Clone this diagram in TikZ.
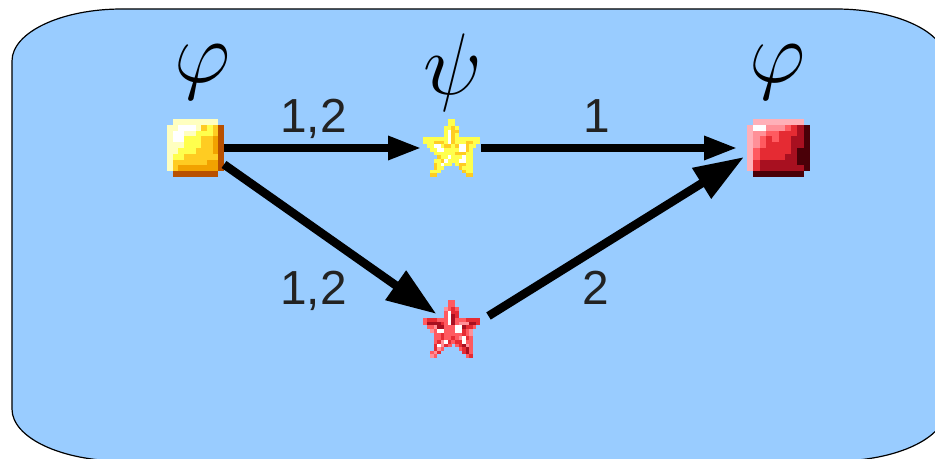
\documentclass[tikz,border=0pt]{standalone}
\usepackage{fontspec}
\setmainfont{Liberation Sans}
\usepackage{xcolor}
\usetikzlibrary{arrows.meta}
\definecolor{panelblue}{HTML}{99CCFF}
\definecolor{labelgray}{HTML}{222222}
\definecolor{pixc}{HTML}{FFFFC0}
\definecolor{pixw}{HTML}{FFFFFF}
\definecolor{pixy}{HTML}{FFFF4D}
\definecolor{pixg}{HTML}{FFCC22}
\definecolor{pixa}{HTML}{F2A200}
\definecolor{pixb}{HTML}{B85000}
\definecolor{pixp}{HTML}{FFB0B8}
\definecolor{pixl}{HTML}{FF9098}
\definecolor{pixm}{HTML}{FF5A60}
\definecolor{pixr}{HTML}{E52B33}
\definecolor{pixd}{HTML}{A81020}
\definecolor{pixk}{HTML}{4A0008}
\newcount\pixi
\def\pixloop#1{\ifx#1\relax\else\ifx#1-\else\fill[pix#1] (\the\pixi,\pixj) rectangle +(1.02,1.02);\fi\advance\pixi by 1 \expandafter\pixloop\fi}
\newcommand{\pixmap}[4]{\begin{scope}[shift={(#1.north west)},x=#2,y=-#3]
\foreach \pixrow [count=\pixj from 0] in {#4} {\pixi=0 \expandafter\pixloop\pixrow\relax}
\end{scope}}
\tikzset{
  sprite/.style={inner sep=0,outer sep=0,minimum height=0.58cm,minimum width=#1},
  lbl/.style={anchor=base,text=labelgray,font=\fontsize{13.6}{14}\selectfont,inner sep=0},
  sym/.style={font=\Huge,inner sep=0},
  thin arrow/.style={-{Triangle[length=0.34cm,width=0.22cm]},line width=0.085cm},
  big arrow/.style={-{Triangle[length=0.5cm,width=0.34cm]},line width=0.085cm}
}
\begin{document}
\begin{tikzpicture}
\useasboundingbox (0,0) rectangle (9.35,4.59);
\clip (0,0) rectangle (9.35,4.59);
\draw[fill=panelblue,line width=0.012cm] (0.12,3.98) arc[start angle=180,end angle=90,x radius=1.1,y radius=0.52] -- (8.36,4.50) arc[start angle=90,end angle=0,x radius=1.1,y radius=0.52] -- (9.46,0.50) arc[start angle=0,end angle=-90,x radius=1.1,y radius=0.52] -- (1.22,-0.02) arc[start angle=270,end angle=180,x radius=1.1,y radius=0.52] -- cycle;
\node[sprite=0.57cm] (yellowbox) at (1.955,3.11) {};
\node[sprite=0.57cm] (yellowstar) at (4.515,3.11) {};
\node[sprite=0.63cm] (redbox) at (7.785,3.11) {};
\node[sprite=0.57cm] (redstar) at (4.515,1.30) {};
\pixmap{yellowbox}{0.057cm}{0.058cm}{-cccccccc-,ccwwwcgygb,cwwccyyygb,cwwyyyggab,cccyyyggab,ccyyygggab,cyyggggggb,cggggggaab,cgaaaaaaab,-bbbbbbbb-}
\pixmap{redbox}{0.063cm}{0.058cm}{-pppppppp-,pwwlllmrdk,pllmmrrrdk,plmrmrrddk,plmrrrrddk,pmrrrrrdkk,pmrrrrddkk,prddddddkk,prdddddddk,-kkkkkkkk-}
\pixmap{yellowstar}{0.0356cm}{0.03625cm}{-------yy-------,-------yy-------,------yygy------,------ywgg------,------ywgy------,yyyyyyywgyyyyyyy,yyygggywgyyyggyy,-yywwyggygwwgyy-,--yywwyyyywwgy--,---yyyyyygggyy--,----gyywyyywyy--,---yygwyyywwyy--,---gywyy-yggyy--,---gyy----gyyy--,--yyy------gyy--,--gg--------gg--}
\pixmap{redstar}{0.0356cm}{0.03625cm}{-------mm-------,-------mm-------,------lmrm------,------mwrr------,------mwdr------,mrrrmmmwdmmmrrrr,mddddrmwdmlllddr,-mmlddmmmwwdrrm-,--lmwwmmmwwrml--,---mmrmmmmmrml--,---mmrmmrmlwrm--,---mrlwrmrrwmm--,---rwlrm-mrdlm--,---rlm----mrdm--,--mlr------rdm--,--lm--------mr--}
\node[sym] (phileft) at (2.03,3.87) {$\varphi$};
\node[sym] (psitop) at (4.53,3.86) {$\psi$};
\node[sym] (phiright) at (7.78,3.87) {$\varphi$};
\node[lbl] (labelupleft) at (3.135,3.26) {1,2};
\node[lbl] (labelupright) at (5.965,3.26) {1};
\node[lbl] (labeldownleft) at (3.135,1.54) {1,2};
\node[lbl] (labeldownright) at (5.955,1.54) {2};
\draw[thin arrow] (yellowbox.east) -- ([xshift=-0.01cm]yellowstar.west);
\draw[thin arrow] ([xshift=0.01cm]yellowstar.east) -- ([xshift=-0.09cm]redbox.west);
\draw[big arrow] (yellowbox.-30) -- ([xshift=-0.15cm,yshift=0.15cm]redstar.center);
\draw[big arrow] ([xshift=0.37cm,yshift=0.13cm]redstar.center) -- ([xshift=-0.345cm,yshift=-0.09cm]redbox.center);
\end{tikzpicture}
\end{document}
